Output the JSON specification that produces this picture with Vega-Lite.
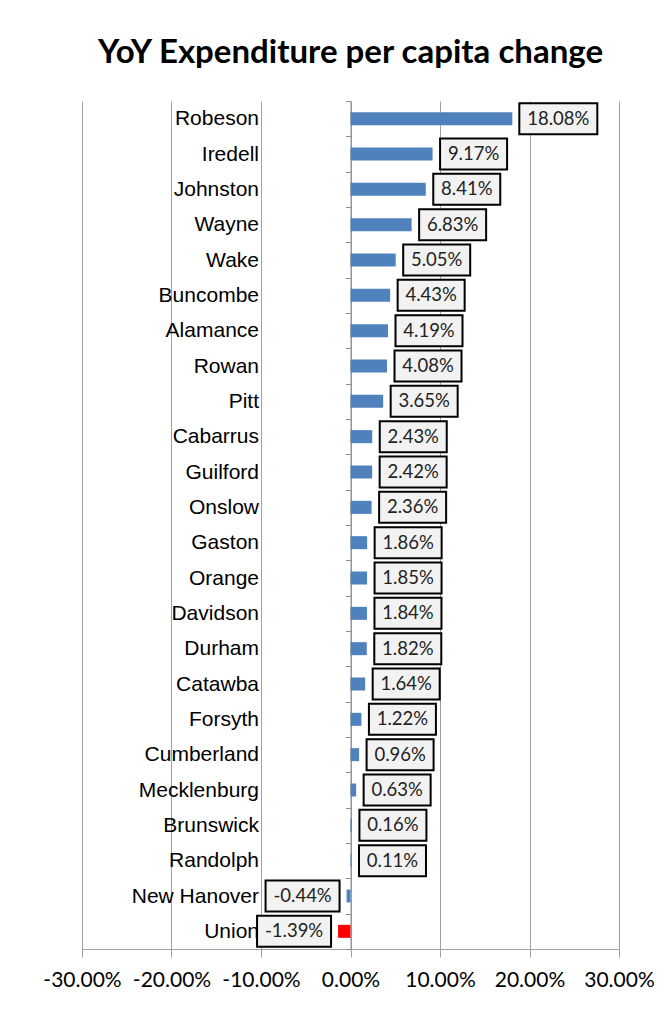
{
  "$schema": "https://vega.github.io/schema/vega-lite/v6.json",
  "width": 537,
  "height": 848,
  "autosize": {"type": "none"},
  "padding": {"left": 82, "top": 101, "right": 53, "bottom": 60},
  "background": "white",
  "title": {"text": "YoY Expenditure per capita change", "font": "Lato", "fontSize": 33, "fontWeight": "bold", "color": "black", "anchor": "middle", "offset": 20},
  "config": {
    "view": {"stroke": null},
    "locale": {"number": {"decimal": ".", "thousands": ",", "grouping": [3], "currency": ["$", ""], "minus": "-"}}
  },
  "data": {"values": [
    {"county": "Robeson", "value": 0.1808},
    {"county": "Iredell", "value": 0.0917},
    {"county": "Johnston", "value": 0.0841},
    {"county": "Wayne", "value": 0.0683},
    {"county": "Wake", "value": 0.0505},
    {"county": "Buncombe", "value": 0.0443},
    {"county": "Alamance", "value": 0.0419},
    {"county": "Rowan", "value": 0.0408},
    {"county": "Pitt", "value": 0.0365},
    {"county": "Cabarrus", "value": 0.0243},
    {"county": "Guilford", "value": 0.0242},
    {"county": "Onslow", "value": 0.0236},
    {"county": "Gaston", "value": 0.0186},
    {"county": "Orange", "value": 0.0185},
    {"county": "Davidson", "value": 0.0184},
    {"county": "Durham", "value": 0.0182},
    {"county": "Catawba", "value": 0.0164},
    {"county": "Forsyth", "value": 0.0122},
    {"county": "Cumberland", "value": 0.0096},
    {"county": "Mecklenburg", "value": 0.0063},
    {"county": "Brunswick", "value": 0.0016},
    {"county": "Randolph", "value": 0.0011},
    {"county": "New Hanover", "value": -0.0044},
    {"county": "Union", "value": -0.0139}
  ]},
  "encoding": {
    "y": {
      "field": "county", "type": "nominal", "sort": null,
      "scale": {"paddingInner": 0, "paddingOuter": 0},
      "axis": {
        "title": null, "offset": -268.5, "domainColor": "#8c8c8c", "tickColor": "#8c8c8c",
        "tickSize": 5, "tickBand": "extent", "labelPadding": 87,
        "labelFont": "Liberation Sans", "labelFontSize": 21, "labelColor": "black", "labelLimit": 0, "grid": false
      }
    },
    "x": {
      "field": "value", "type": "quantitative",
      "scale": {"domain": [-0.3, 0.3], "nice": false, "zero": false},
      "axis": {
        "values": [-0.3, -0.2, -0.1, 0, 0.1, 0.2, 0.3], "format": ".2%", "grid": true,
        "gridColor": "#a0a0a0", "domainColor": "#a0a0a0", "tickColor": "#a0a0a0", "tickSize": 8,
        "labelFont": "Lato", "labelFontSize": 21, "labelPadding": 12, "labelColor": "black",
        "title": null, "labelFlush": false, "labelOverlap": false
      }
    }
  },
  "layer": [
    {
      "mark": {"type": "bar", "height": 13},
      "encoding": {
        "color": {"condition": {"test": "datum.county === 'Union'", "value": "#ff0000"}, "value": "#4f81bd"}
      }
    },
    {
      "transform": [{"filter": "datum.value > 0 && datum.value < 0.1"}],
      "mark": {"type": "bar", "height": 31, "xOffset": 7.5, "x2Offset": 74.5, "fill": "#f2f2f2", "stroke": "black", "strokeWidth": 2},
      "encoding": {"x2": {"field": "value"}}
    },
    {
      "transform": [{"filter": "datum.value >= 0.1"}],
      "mark": {"type": "bar", "height": 31, "xOffset": 7, "x2Offset": 85, "fill": "#f2f2f2", "stroke": "black", "strokeWidth": 2},
      "encoding": {"x2": {"field": "value"}}
    },
    {
      "transform": [{"filter": "datum.value < 0"}],
      "mark": {"type": "bar", "height": 31, "xOffset": -81, "x2Offset": -7, "fill": "#f2f2f2", "stroke": "black", "strokeWidth": 2},
      "encoding": {"x2": {"field": "value"}}
    },
    {
      "transform": [{"filter": "datum.value > 0 && datum.value < 0.1"}],
      "mark": {"type": "text", "dx": 41, "align": "center", "baseline": "middle", "font": "Lato", "fontSize": 18.5, "color": "#222"},
      "encoding": {"text": {"field": "value", "type": "quantitative", "format": ".2%"}}
    },
    {
      "transform": [{"filter": "datum.value >= 0.1"}],
      "mark": {"type": "text", "dx": 46, "align": "center", "baseline": "middle", "font": "Lato", "fontSize": 18.5, "color": "#222"},
      "encoding": {"text": {"field": "value", "type": "quantitative", "format": ".2%"}}
    },
    {
      "transform": [{"filter": "datum.value < 0"}],
      "mark": {"type": "text", "dx": -44, "align": "center", "baseline": "middle", "font": "Lato", "fontSize": 18.5, "color": "#222"},
      "encoding": {"text": {"field": "value", "type": "quantitative", "format": ".2%"}}
    }
  ]
}
